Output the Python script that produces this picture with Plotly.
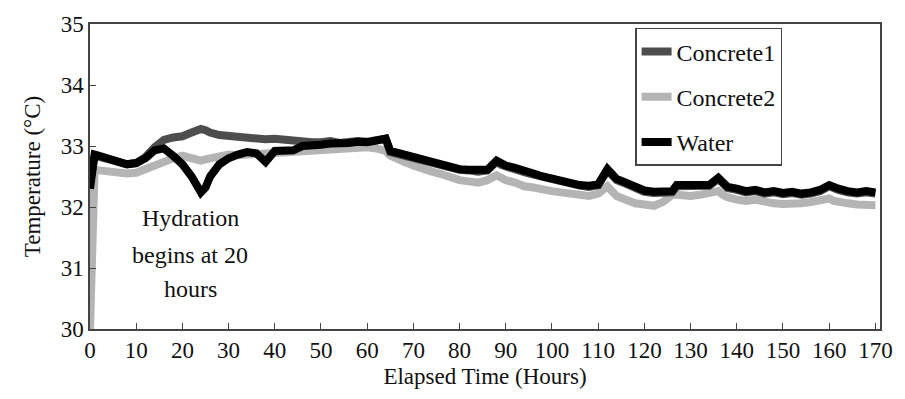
import plotly.graph_objects as go

hours = [0, 1, 2, 4, 6, 8, 10, 12, 14, 16, 18, 20, 22, 23, 24, 25, 26, 28, 30, 32,
         34, 36, 38, 40, 42, 44, 46, 48, 50, 52, 54, 56, 58, 60, 62, 64, 65, 66, 68, 70,
         72, 74, 76, 78, 80, 82, 84, 86, 88, 89, 90, 92, 94, 96, 98, 100, 102, 104, 106, 108,
         110, 112, 113, 114, 116, 118, 120, 122, 124, 126, 127, 128, 130, 132, 134, 136, 137, 138, 140, 142,
         144, 146, 148, 150, 152, 154, 156, 158, 160, 161, 162, 164, 166, 168, 170]

water = [32.30, 32.86, 32.84, 32.80, 32.74, 32.70, 32.72, 32.80, 32.93, 32.96, 32.84, 32.70, 32.50, 32.36, 32.24, 32.32, 32.50, 32.70, 32.80, 32.86,
         32.90, 32.88, 32.74, 32.92, 32.94, 32.93, 33.00, 33.00, 33.02, 33.04, 33.03, 33.05, 33.07, 33.06, 33.09, 33.12, 32.92, 32.90, 32.86, 32.80,
         32.76, 32.72, 32.70, 32.66, 32.62, 32.61, 32.60, 32.61, 32.76, 32.70, 32.68, 32.64, 32.58, 32.55, 32.50, 32.46, 32.42, 32.38, 32.36, 32.35,
         32.37, 32.62, 32.52, 32.46, 32.40, 32.32, 32.27, 32.25, 32.24, 32.26, 32.36, 32.36, 32.35, 32.35, 32.36, 32.48, 32.38, 32.33, 32.30, 32.26,
         32.28, 32.24, 32.26, 32.23, 32.25, 32.22, 32.24, 32.28, 32.36, 32.32, 32.30, 32.26, 32.24, 32.26, 32.24]

concrete1 = [32.40, 32.84, 32.82, 32.78, 32.74, 32.70, 32.72, 32.82, 32.98, 33.10, 33.14, 33.16, 33.22, 33.26, 33.28, 33.26, 33.22, 33.18, 33.16, 33.14,
             33.12, 33.13, 33.11, 33.12, 33.10, 33.11, 33.08, 33.06, 33.06, 33.08, 33.05, 33.07, 33.08, 33.07, 33.10, 33.12, 32.90, 32.88, 32.84, 32.79,
             32.75, 32.71, 32.69, 32.64, 32.61, 32.60, 32.58, 32.60, 32.74, 32.69, 32.66, 32.62, 32.57, 32.53, 32.49, 32.44, 32.40, 32.36, 32.35, 32.33,
             32.36, 32.60, 32.50, 32.44, 32.38, 32.30, 32.25, 32.23, 32.22, 32.24, 32.34, 32.34, 32.33, 32.34, 32.35, 32.46, 32.36, 32.31, 32.28, 32.24,
             32.26, 32.22, 32.24, 32.21, 32.23, 32.20, 32.22, 32.26, 32.34, 32.30, 32.28, 32.24, 32.22, 32.24, 32.22]

concrete2 = [30.00, 32.62, 32.60, 32.58, 32.56, 32.55, 32.56, 32.62, 32.70, 32.76, 32.80, 32.84, 32.80, 32.78, 32.76, 32.78, 32.80, 32.84, 32.86, 32.85,
             32.86, 32.87, 32.86, 32.88, 32.88, 32.90, 32.92, 32.93, 32.94, 32.95, 32.93, 32.96, 32.97, 32.98, 32.96, 32.92, 32.84, 32.80, 32.74, 32.68,
             32.62, 32.58, 32.54, 32.48, 32.44, 32.42, 32.40, 32.44, 32.52, 32.48, 32.44, 32.40, 32.34, 32.32, 32.28, 32.26, 32.24, 32.22, 32.20, 32.18,
             32.22, 32.34, 32.26, 32.18, 32.12, 32.06, 32.04, 32.02, 32.08, 32.20, 32.20, 32.19, 32.18, 32.20, 32.22, 32.26, 32.20, 32.16, 32.12, 32.10,
             32.12, 32.08, 32.06, 32.05, 32.04, 32.06, 32.08, 32.12, 32.14, 32.10, 32.08, 32.06, 32.04, 32.05, 32.03]

x_ticks = [0, 10, 20, 30, 40, 50, 60, 70, 80, 90, 100, 110, 120, 130, 140, 150, 160, 170]
y_ticks = [30, 31, 32, 33, 34, 35]
note_lines = ["Hydration", "begins at 20", "hours"]
note_y = [31.82, 31.21, 30.65]

FONT = "Liberation Serif"

fig = go.Figure()
fig.add_trace(go.Scatter(x=hours, y=concrete2, mode="lines", name="Concrete2",
                         line=dict(color="#b4b4b4", width=8), legendgroup="b", legendrank=2))
fig.add_trace(go.Scatter(x=hours, y=concrete1, mode="lines", name="Concrete1",
                         line=dict(color="#4d4d4d", width=8), legendgroup="a", legendrank=1))
fig.add_trace(go.Scatter(x=hours, y=water, mode="lines", name="Water",
                         line=dict(color="#000000", width=8), legendgroup="c", legendrank=3))

for txt, yy in zip(note_lines, note_y):
    fig.add_annotation(x=21.7, y=yy, text=txt, showarrow=False, xref="x", yref="y",
                       font=dict(family=FONT, size=24, color="#111111"))

fig.update_xaxes(range=[0, 171], tickvals=x_ticks, ticktext=[str(v) for v in x_ticks],
                 showline=True, linecolor="#444", linewidth=1.5, mirror=True,
                 ticks="inside", ticklen=6, tickcolor="#444", showgrid=False, zeroline=False,
                 tickfont=dict(family=FONT, size=23, color="#111111"),
                 title=dict(text="Elapsed Time (Hours)", font=dict(family=FONT, size=23, color="#111111"), standoff=6))
fig.update_yaxes(range=[30, 35], tickvals=y_ticks, ticktext=[str(v) for v in y_ticks],
                 showline=True, linecolor="#444", linewidth=1.5, mirror=True,
                 ticks="inside", ticklen=6, tickcolor="#444", showgrid=False, zeroline=False,
                 tickfont=dict(family=FONT, size=23, color="#111111"),
                 title=dict(text="Temperature (°C)", font=dict(family=FONT, size=23, color="#111111"), standoff=14))

fig.update_layout(
    template="simple_white",
    width=905, height=399,
    margin=dict(l=90, r=17, t=23, b=70),
    font=dict(family=FONT, size=23, color="#111111"),
    legend=dict(x=0.69, y=0.987, xanchor="left", yanchor="top",
                bgcolor="white", bordercolor="#444", borderwidth=1.5,
                font=dict(family=FONT, size=24, color="#111111"),
                traceorder="grouped", tracegroupgap=11),
    showlegend=True,
)

fig.write_html("out.html")
